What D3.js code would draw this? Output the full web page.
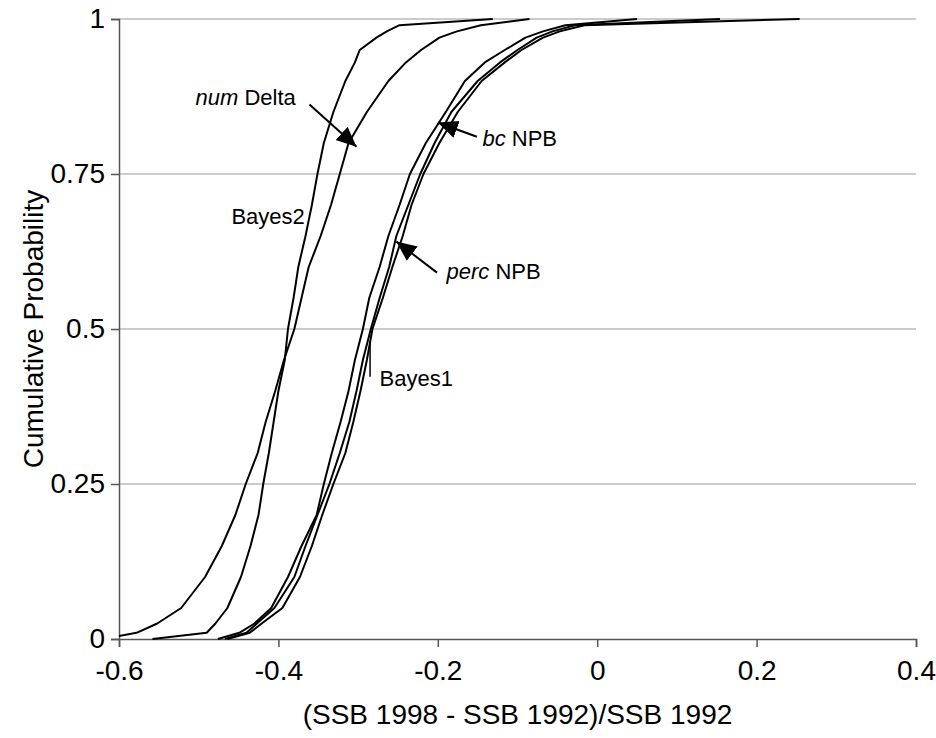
<!DOCTYPE html>
<html>
<head>
<meta charset="utf-8">
<script src="https://cdn.jsdelivr.net/npm/d3@7"></script>
<style>
  body { margin: 0; background: #fff; }
  text { font-family: "Liberation Sans", Arial, sans-serif; }
</style>
</head>
<body>
<div id="chart"></div>
<script>
// cumulative probability levels (shared by all curves)
const probs = [0, 0.01, 0.025, 0.05, 0.1, 0.15, 0.2, 0.25, 0.3, 0.35, 0.4, 0.45, 0.5,
  0.55, 0.6, 0.65, 0.7, 0.75, 0.8, 0.85, 0.9, 0.93, 0.95, 0.97, 0.98, 0.99, 1];

// x value of each curve at those levels
const numDelta = [-0.62, -0.578, -0.552, -0.522, -0.492, -0.471, -0.454, -0.441, -0.426, -0.416,
  -0.404, -0.393, -0.380, -0.371, -0.362, -0.347, -0.334, -0.323, -0.312, -0.289, -0.262,
  -0.240, -0.221, -0.198, -0.176, -0.146, -0.085];
const bayes2 = [-0.558, -0.490, -0.479, -0.464, -0.447, -0.435, -0.425, -0.419, -0.412, -0.406,
  -0.400, -0.392, -0.388, -0.381, -0.375, -0.366, -0.358, -0.351, -0.343, -0.331, -0.316,
  -0.304, -0.298, -0.277, -0.264, -0.248, -0.131];
const bcNPB = [-0.476, -0.449, -0.430, -0.409, -0.388, -0.371, -0.352, -0.343, -0.333, -0.322,
  -0.312, -0.304, -0.294, -0.286, -0.273, -0.262, -0.248, -0.235, -0.215, -0.190, -0.166,
  -0.141, -0.116, -0.090, -0.068, -0.040, 0.050];
const percNPB = [-0.467, -0.440, -0.427, -0.405, -0.380, -0.366, -0.351, -0.336, -0.323, -0.311,
  -0.302, -0.294, -0.284, -0.273, -0.261, -0.252, -0.237, -0.222, -0.204, -0.183, -0.150,
  -0.122, -0.100, -0.076, -0.056, -0.028, 0.154];
const bayes1 = [-0.464, -0.436, -0.421, -0.395, -0.373, -0.358, -0.345, -0.331, -0.316, -0.306,
  -0.297, -0.289, -0.282, -0.269, -0.257, -0.244, -0.233, -0.218, -0.198, -0.175, -0.145,
  -0.116, -0.095, -0.068, -0.047, -0.016, 0.254];

const xTicks = [-0.6, -0.4, -0.2, 0, 0.2, 0.4];
const yTicks = [0, 0.25, 0.5, 0.75, 1];

const curves = [numDelta, bayes2, bcNPB, percNPB, bayes1];

// callout labels: [italic part, plain part, x, p]
const labels = [
  ["num", "Delta", -0.504, 0.862],
  ["", "Bayes2", -0.459, 0.670],
  ["", "Bayes1", -0.273, 0.408],
  ["perc", "NPB", -0.189, 0.580],
  ["bc", "NPB", -0.144, 0.795]
];
// arrows: from (x1,p1) to tip (x2,p2)
const arrows = [
  [-0.361, 0.862, -0.302, 0.794],
  [-0.201, 0.591, -0.252, 0.641],
  [-0.151, 0.810, -0.200, 0.833]
];
const leader = [-0.285, 0.478, -0.285, 0.423];

const width = 936, height = 738;
const margin = {top: 19, right: 20, bottom: 99, left: 119};
const axisFont = 28;
const labelFont = 22;

const svg = d3.select("#chart").append("svg")
  .attr("width", width)
  .attr("height", height);

const x = d3.scaleLinear()
  .domain([-0.6, 0.4])
  .range([margin.left, width - margin.right]);
const y = d3.scaleLinear()
  .domain([0, 1])
  .range([height - margin.bottom, margin.top]);

svg.append("clipPath").attr("id", "plot")
  .append("rect")
    .attr("x", x(-0.6)).attr("y", y(1) - 2)
    .attr("width", x(0.4) - x(-0.6)).attr("height", y(0) - y(1) + 4);

// gridlines
svg.append("g")
  .selectAll("line")
  .data(yTicks.slice(1))
  .join("line")
    .attr("x1", x(-0.6)).attr("x2", x(0.4))
    .attr("y1", d => y(d)).attr("y2", d => y(d))
    .attr("stroke", "#999")
    .attr("stroke-width", 1);

// y axis
const yAxis = svg.append("g")
  .attr("transform", `translate(${margin.left},0)`)
  .call(d3.axisLeft(y).tickValues(yTicks).tickFormat(d => String(d)).tickSizeOuter(0).tickSize(8).tickPadding(6));
// x axis
const xAxis = svg.append("g")
  .attr("transform", `translate(0,${height - margin.bottom})`)
  .call(d3.axisBottom(x).tickValues(xTicks).tickFormat(d => String(d)).tickSizeOuter(0).tickSize(8).tickPadding(13));

[yAxis, xAxis].forEach(g => {
  g.select(".domain").attr("stroke", "#555").attr("stroke-width", 1.5);
  g.selectAll(".tick line").attr("stroke", "#555").attr("stroke-width", 1.5);
  g.selectAll(".tick text")
    .attr("fill", "#000")
    .attr("font-size", axisFont + "px")
    .attr("font-family", "Liberation Sans, Arial, sans-serif");
});

// axis titles
svg.append("text")
  .attr("x", (x(-0.6) + x(0.4)) / 2)
  .attr("y", 724)
  .attr("text-anchor", "middle")
  .attr("font-size", axisFont + "px")
  .text("(SSB 1998 - SSB 1992)/SSB 1992");

svg.append("text")
  .attr("transform", `translate(43,${(y(0) + y(1)) / 2}) rotate(-90)`)
  .attr("text-anchor", "middle")
  .attr("font-size", axisFont + "px")
  .text("Cumulative Probability");

// curves
const line = d3.line()
  .x(d => x(d[0]))
  .y(d => y(d[1]));

svg.append("g")
  .attr("clip-path", "url(#plot)")
  .selectAll("path")
  .data(curves)
  .join("path")
    .attr("d", vals => line(vals.map((v, i) => [v, probs[i]])))
    .attr("fill", "none")
    .attr("stroke", "#000")
    .attr("stroke-width", 2)
    .attr("stroke-linejoin", "round");

// arrow head
svg.append("defs").append("marker")
  .attr("id", "head")
  .attr("viewBox", "0 -10 20 20")
  .attr("refX", 20).attr("refY", 0)
  .attr("markerUnits", "userSpaceOnUse")
  .attr("markerWidth", 20).attr("markerHeight", 20)
  .attr("orient", "auto")
  .append("path")
    .attr("d", "M0,-9L20,0L0,9Z")
    .attr("fill", "#000");

svg.append("g")
  .selectAll("line")
  .data(arrows)
  .join("line")
    .attr("x1", d => x(d[0])).attr("y1", d => y(d[1]))
    .attr("x2", d => x(d[2])).attr("y2", d => y(d[3]))
    .attr("stroke", "#000")
    .attr("stroke-width", 2)
    .attr("marker-end", "url(#head)");

svg.append("line")
  .attr("x1", x(leader[0])).attr("y1", y(leader[1]))
  .attr("x2", x(leader[2])).attr("y2", y(leader[3]))
  .attr("stroke", "#000")
  .attr("stroke-width", 1.5);

// labels
const lab = svg.append("g")
  .selectAll("text")
  .data(labels)
  .join("text")
    .attr("x", d => x(d[2]))
    .attr("y", d => y(d[3]))
    .attr("font-size", labelFont + "px");
lab.append("tspan")
  .attr("font-style", "italic")
  .text(d => d[0] ? d[0] + " " : "");
lab.append("tspan")
  .text(d => d[1]);
</script>
</body>
</html>
